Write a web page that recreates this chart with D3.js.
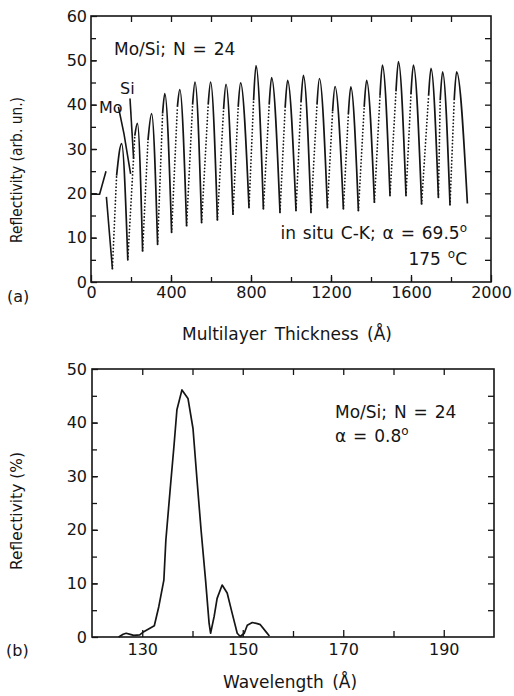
<!DOCTYPE html>
<html>
<head>
<meta charset="utf-8">
<script src="https://cdn.jsdelivr.net/npm/d3@7"></script>
<style>
    body { margin: 0; background: #fff; }
    svg { display: block; font-family: 'DejaVu Sans', sans-serif; }
</style>
</head>
<body>
<svg id="chart" width="514" height="696"></svg>
<script>
// (a) in situ reflectivity during deposition
const leadT = [0, 43, 75];
const leadR = [19.8, 19.8, 25];
const firstDropT = [77, 107];
const firstDropR = [19.2, 3];
const moT = [137, 165, 198];
const moR = [39.5, 33.4, 24.4];
const siT = [195, 213];
const siR = [41.4, 27.8];

const shoulderT = [128, 219, 285, 358, 432, 508, 586, 663, 736, 813, 891, 971, 1050, 1130, 1208, 1287, 1366, 1445, 1525, 1600, 1688, 1746, 1816];
const shoulderR = [24, 33, 32, 38, 39.5, 40, 40, 39, 39.5, 41, 40, 39.5, 40.5, 40, 38.5, 38, 39.5, 42, 43, 42.5, 42, 41, 41];
const peakT = [153, 232, 303, 369, 444, 520, 598, 675, 748, 825, 903, 983, 1062, 1142, 1220, 1299, 1378, 1457, 1537, 1612, 1700, 1758, 1828];
const peakR = [31.2, 35.8, 38, 42.5, 43.4, 45.1, 45.1, 44.6, 44.9, 48.8, 46.1, 45.5, 46.6, 45.9, 44.1, 44, 45.5, 48.9, 49.7, 48.9, 48.2, 47.4, 47.4];
const dropT = [184, 258, 333, 403, 478, 553, 632, 710, 790, 862, 945, 1025, 1100, 1182, 1262, 1337, 1417, 1495, 1575, 1653, 1737, 1795, 1882];
const dropR = [5, 7, 8.5, 11.2, 12.7, 13.4, 14, 15.3, 16.8, 16.5, 15.7, 16.1, 15.7, 16.8, 16.5, 16.1, 18, 19.5, 19.5, 17.6, 19.1, 17.4, 17.7];

const xTicksA = [0, 400, 800, 1200, 1600, 2000];
const yTicksA = [0, 10, 20, 30, 40, 50, 60];

// (b) reflectivity vs wavelength
const wavelength = [125.3, 126.2, 126.8, 127.6, 128.3, 129.5, 130.3, 132.4, 133.3, 134.3, 134.7, 135.6, 136.3, 136.9, 137.9, 139.1, 140.1, 140.9, 141.7, 142.6, 143.3, 143.6, 144.3, 144.9, 145.9, 146.9, 147.9, 148.9, 149.5, 150.3, 150.9, 151.9, 152.9, 153.5, 154.6, 155.3];
const reflectivity = [0, 0.5, 0.7, 0.5, 0.3, 0.4, 1.0, 2.1, 5.7, 10.6, 18.1, 28, 35.5, 42.4, 46.1, 44.5, 38.9, 29.3, 20, 10.6, 2.6, 0.7, 3.8, 7.2, 9.7, 8.2, 4.4, 0.7, 0.1, 0.7, 2.2, 2.7, 2.5, 2.3, 1.0, 0.2];

const xTicksB = [130, 150, 170, 190];
const yTicksB = [0, 10, 20, 30, 40, 50];

const ink = '#151515';
const svg = d3.select('#chart');

const zip = (xs, ys) => xs.map((x, i) => [x, ys[i]]);

function frame(x, y) {
    const [x0, x1] = x.range();
    const [y0, y1] = y.range();
    svg.append('rect')
        .attr('x', x0).attr('y', y1)
        .attr('width', x1 - x0).attr('height', y0 - y1)
        .attr('fill', 'none')
        .attr('stroke', ink)
        .attr('stroke-width', 1.6);
}

// inward ticks, labels only where a format is given
function ticks(axis, at, values, size, pad, format) {
    const g = svg.append('g')
        .attr('transform', at)
        .call(axis.tickValues(values).tickSize(-size).tickPadding(pad).tickFormat(format || (() => '')));
    g.attr('font-family', null).attr('font-size', null);
    g.select('.domain').remove();
    g.selectAll('line').attr('stroke', ink).attr('stroke-width', 1.3);
    g.selectAll('text').attr('fill', ink).style('font-size', '16px');
    return g;
}

function note(x, y, parts, anchor, size) {
    const t = svg.append('text')
        .attr('x', x).attr('y', y)
        .attr('text-anchor', anchor || 'start')
        .attr('fill', ink)
        .style('font-size', `${size || 17}px`)
        .style('word-spacing', '1.5px');
    let up = false;
    parts.forEach(p => {
        const sup = Array.isArray(p);
        const s = t.append('tspan').text(sup ? p[0] : p);
        if (sup) {
            s.attr('dy', -7).style('font-size', '12px');
            up = true;
        } else if (up) {
            s.attr('dy', 7);
            up = false;
        }
    });
    return t;
}

function yTitle(cx, cy, len, label) {
    svg.append('text')
        .attr('transform', `translate(${cx},${cy}) rotate(-90)`)
        .attr('text-anchor', 'middle')
        .attr('fill', ink)
        .attr('textLength', len)
        .attr('lengthAdjust', 'spacingAndGlyphs')
        .style('font-size', '15.5px')
        .text(label);
}

/*
 * Panel (a)
 */

(function () {
    const x = d3.scaleLinear().domain([0, 2000]).range([91, 491]);
    const y = d3.scaleLinear().domain([0, 60]).range([282, 16]);
    const fmt = d3.format('d');

    ticks(d3.axisBottom(x), 'translate(0,282)', d3.range(200, 2000, 200), 5, 5);
    ticks(d3.axisBottom(x), 'translate(0,282)', xTicksA, 7, 5, fmt);
    ticks(d3.axisTop(x), 'translate(0,16)', d3.range(200, 2000, 200), 6, 3);
    ticks(d3.axisLeft(y), 'translate(91,0)', d3.range(5, 60, 5), 5, 4);
    ticks(d3.axisLeft(y), 'translate(91,0)', yTicksA, 6, 4, fmt);
    ticks(d3.axisRight(y), 'translate(491,0)', d3.range(5, 60, 5), 6, 3);
    frame(x, y);

    const solid = d3.line().x(d => x(d[0])).y(d => y(d[1])).curve(d3.curveMonotoneX);
    const straight = d3.line().x(d => x(d[0])).y(d => y(d[1]));

    const cycles = peakT.map((t, i) => [
        [shoulderT[i], shoulderR[i]],
        [t, peakR[i]],
        [dropT[i], dropR[i]]
    ]);
    const starts = [[firstDropT[1], firstDropR[1]]].concat(zip(dropT, dropR));
    const rises = shoulderT.map((t, i) => [starts[i], [t, shoulderR[i]]]);

    const plot = svg.append('g')
        .attr('fill', 'none')
        .attr('stroke', ink);

    plot.selectAll('path.rise')
        .data(rises)
        .enter().append('path')
        .attr('class', 'rise')
        .attr('d', straight)
        .attr('stroke-width', 1.8)
        .attr('stroke-linecap', 'round')
        .attr('stroke-dasharray', '0,3.4');

    plot.selectAll('path.cycle')
        .data(cycles)
        .enter().append('path')
        .attr('class', 'cycle')
        .attr('d', solid)
        .attr('stroke-width', 1.7);

    plot.selectAll('path.extra')
        .data([zip(leadT, leadR), zip(firstDropT, firstDropR), zip(moT, moR), zip(siT, siR)])
        .enter().append('path')
        .attr('class', 'extra')
        .attr('d', straight)
        .attr('stroke-width', 1.6);

    note(114, 55, ['Mo/Si; N = 24']);
    note(120, 94, ['Si'], 'start', 16);
    note(99, 113, ['Mo'], 'start', 16);
    note(467, 239, ['in situ C-K; \u03b1 = 69.5', ['o']], 'end');
    note(467, 265, ['175 ', ['o'], 'C'], 'end');

    yTitle(22, 170, 146, 'Reflectivity (arb. un.)');
    svg.append('text')
        .attr('x', 287).attr('y', 340)
        .attr('text-anchor', 'middle')
        .attr('fill', ink)
        .style('font-size', '17px')
        .style('word-spacing', '3px')
        .text('Multilayer Thickness (\u00c5)');
    svg.append('text')
        .attr('x', 7).attr('y', 302)
        .attr('fill', ink)
        .style('font-size', '16px')
        .text('(a)');
}());

/*
 * Panel (b)
 */

(function () {
    const x = d3.scaleLinear().domain([120, 200]).range([92, 494]);
    const y = d3.scaleLinear().domain([0, 50]).range([637, 369]);
    const fmt = d3.format('d');

    ticks(d3.axisBottom(x), 'translate(0,637)', [140, 160, 180], 6, 6);
    ticks(d3.axisBottom(x), 'translate(0,637)', xTicksB, 7, 6.5, fmt);
    ticks(d3.axisTop(x), 'translate(0,369)', d3.range(130, 200, 10), 6, 3);
    ticks(d3.axisLeft(y), 'translate(92,0)', d3.range(5, 50, 5), 5, 5);
    ticks(d3.axisLeft(y), 'translate(92,0)', yTicksB, 6, 5, fmt);
    ticks(d3.axisRight(y), 'translate(494,0)', d3.range(5, 50, 5), 6, 3);
    frame(x, y);

    svg.append('path')
        .datum(zip(wavelength, reflectivity))
        .attr('fill', 'none')
        .attr('stroke', ink)
        .attr('stroke-width', 1.7)
        .attr('stroke-linejoin', 'round')
        .attr('d', d3.line().x(d => x(d[0])).y(d => y(d[1])));

    note(335, 418, ['Mo/Si; N = 24']);
    note(335, 442, ['\u03b1 = 0.8', ['o']]);

    yTitle(22, 511, 118, 'Reflectivity (%)');
    svg.append('text')
        .attr('x', 290).attr('y', 688)
        .attr('text-anchor', 'middle')
        .attr('fill', ink)
        .style('font-size', '17px')
        .style('word-spacing', '3px')
        .text('Wavelength (\u00c5)');
    svg.append('text')
        .attr('x', 6).attr('y', 656)
        .attr('fill', ink)
        .style('font-size', '16px')
        .text('(b)');
}());
</script>
</body>
</html>
